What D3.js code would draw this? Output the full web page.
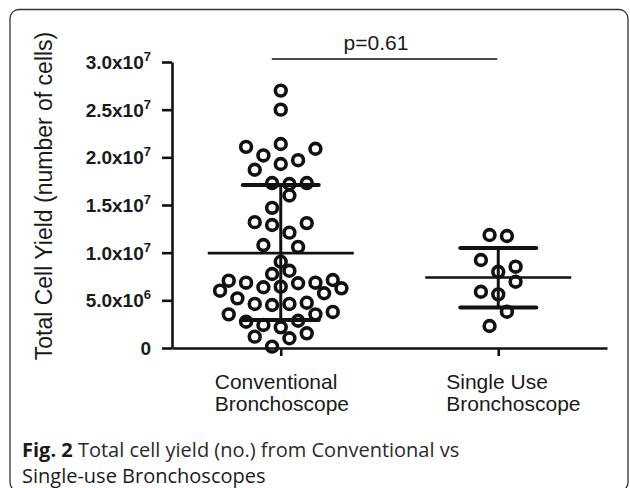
<!DOCTYPE html>
<html lang="en">
<head>
<meta charset="UTF-8" />
<script src="https://cdn.jsdelivr.net/npm/d3@7"></script>
<title>Total cell yield</title>
<style>
  body { margin: 0; background: #fff; }
  text { fill: #1a1a1a; }
</style>
</head>
<body>
<script>
// categories and their two-line labels
var groups = ["Conventional", "Single Use"];
var groupLabels = [["Conventional", "Bronchoscope"], ["Single Use", "Bronchoscope"]];

// cell counts, with the column-scatter slot of each point
var convValues = [27.0e6, 25.0e6, 21.1e6, 21.4e6, 20.9e6, 20.2e6, 19.7e6, 19.3e6, 18.7e6, 17.3e6,
  17.2e6, 17.3e6, 16.0e6, 14.7e6, 13.2e6, 12.9e6, 13.1e6, 12.1e6, 10.8e6, 10.6e6,
  9.05e6, 8.1e6, 7.76e6, 7.06e6, 6.85e6, 6.37e6, 6.43e6, 6.79e6, 6.85e6, 7.13e6,
  6.01e6, 5.74e6, 6.26e6, 5.21e6, 4.62e6, 4.51e6, 4.62e6, 4.75e6, 3.53e6, 3.53e6,
  3.78e6, 2.76e6, 2.41e6, 2.17e6, 2.86e6, 1.19e6, 1.02e6, 1.54e6, 0.14e6];
var convSlot = [0, 0, -4, 0, 4, -2, 2, 0, -3, -1,
  1, 3, 1, -1, -3, -1, 3, 1, -2, 2,
  0, 1, -1, -6, -4, -2, 0, 2, 4, 6,
  -7, 5, 7, -5, -3, -1, 1, 3, -6, 4,
  6, -4, -2, 0, 2, -3, 1, 3, -1];
var singleValues = [11.85e6, 11.75e6, 9.23e6, 8.53e6, 8.0e6, 6.95e6, 5.9e6, 5.63e6, 3.81e6, 2.31e6];
var singleSlot = [-1, 1, -2, 2, 0, 2, -2, 0, 1, -1];

// mean and +/- SD bars
var means = [9.95e6, 7.4e6];
var sdUpper = [17.1e6, 10.5e6];
var sdLower = [2.95e6, 4.25e6];

var yTicks = [0, 5e6, 1e7, 1.5e7, 2e7, 2.5e7, 3e7];
var yTickMant = ["0", "5.0x10", "1.0x10", "1.5x10", "2.0x10", "2.5x10", "3.0x10"];
var yTickExp = ["", "6", "7", "7", "7", "7", "7"];
var pLabel = "p=0.61";

var width = 630, height = 488;
var svg = d3.select("body").append("svg").attr("width", width).attr("height", height);

// figure frame
svg.append("rect").attr("x", 10).attr("y", 9.5).attr("width", 618).attr("height", 482)
  .attr("rx", 9).attr("fill", "none").attr("stroke", "#333").attr("stroke-width", 1.3);

var y = d3.scaleLinear().domain([0, 3e7]).range([348, 62]);
var x = d3.scalePoint().domain(groups).range([172, 607]).padding(0.5);
var slot = d3.scaleLinear().domain([-1, 1]).range([-8.67, 8.67]);

// y axis
var yAxis = svg.append("g").attr("transform", "translate(172,0)")
  .call(d3.axisLeft(y).tickValues(yTicks).tickSize(10).tickSizeOuter(0).tickFormat(""));
yAxis.selectAll("path, line").attr("stroke", "#111").attr("stroke-width", 2.6);

var yl = svg.append("g").selectAll("text").data(yTicks).join("text")
  .attr("x", 151).attr("y", function(d) { return y(d) + 7; })
  .attr("text-anchor", "end")
  .style("font-family", "'Liberation Sans', Arial, sans-serif")
  .style("font-weight", "bold").style("font-size", "19px");
yl.append("tspan").text(function(d, i) { return yTickMant[i]; });
yl.append("tspan").attr("dy", -8).style("font-size", "13px").text(function(d, i) { return yTickExp[i]; });

// x axis
var xAxis = svg.append("g").attr("transform", "translate(0,348)")
  .call(d3.axisBottom(x).tickSize(8).tickSizeOuter(0).tickFormat(""));
xAxis.selectAll("path, line").attr("stroke", "#111").attr("stroke-width", 2.6);

// category labels
groupLabels.forEach(function(lines, i) {
  var t = svg.append("text")
    .attr("x", i === 0 ? x(groups[i]) - 66 : x(groups[i]) - 52)
    .attr("y", 389)
    .style("font-family", "'Liberation Sans', Arial, sans-serif").style("font-size", "21px");
  lines.forEach(function(s, k) {
    t.append("tspan").attr("x", t.attr("x")).attr("dy", k === 0 ? 0 : 22).text(s);
  });
});

// y title
svg.append("text")
  .attr("transform", "translate(52,196) rotate(-90)")
  .attr("text-anchor", "middle")
  .style("font-family", "'Liberation Sans', Arial, sans-serif").style("font-size", "23px")
  .text("Total Cell Yield (number of cells)");

// points
var pts = [];
convValues.forEach(function(v, i) { pts.push({ g: groups[0], v: v, s: convSlot[i] }); });
singleValues.forEach(function(v, i) { pts.push({ g: groups[1], v: v, s: singleSlot[i] }); });

svg.append("g").selectAll("circle").data(pts).join("circle")
  .attr("cx", function(d) { return x(d.g) + slot(d.s) - slot(0); })
  .attr("cy", function(d) { return y(d.v); })
  .attr("r", 5.4)
  .attr("fill", "none").attr("stroke", "#111").attr("stroke-width", 3.6);

// mean and SD
var bars = svg.append("g").attr("stroke", "#111");
groups.forEach(function(g, i) {
  var cx = x(g);
  bars.append("line").attr("x1", cx - 73).attr("x2", cx + 73)
    .attr("y1", y(means[i])).attr("y2", y(means[i])).attr("stroke-width", 2.6);
  bars.append("line").attr("x1", cx).attr("x2", cx)
    .attr("y1", y(sdUpper[i])).attr("y2", y(sdLower[i])).attr("stroke-width", 3);
  [sdUpper[i], sdLower[i]].forEach(function(v) {
    bars.append("line").attr("x1", cx - 38).attr("x2", cx + 38)
      .attr("y1", y(v)).attr("y2", y(v)).attr("stroke-width", 4).attr("stroke-linecap", "round");
  });
});

// significance bracket
svg.append("line").attr("x1", x(groups[0]) - 9).attr("x2", x(groups[1]) - 1)
  .attr("y1", 59).attr("y2", 59).attr("stroke", "#111").attr("stroke-width", 1.6);
svg.append("text").attr("x", 376).attr("y", 50).attr("text-anchor", "middle")
  .style("font-family", "'Liberation Sans', Arial, sans-serif").style("font-size", "21px")
  .text(pLabel);

// caption
var cap = svg.append("g").style("font-family", "'Open Sans', sans-serif").style("font-size", "20px");
var c1 = cap.append("text").attr("x", 22).attr("y", 457);
c1.append("tspan").style("font-weight", "bold").text("Fig. 2");
c1.append("tspan").attr("fill", "#2a2a2a").text(" Total cell yield (no.) from Conventional vs");
cap.append("text").attr("x", 22).attr("y", 483).attr("fill", "#2a2a2a").text("Single-use Bronchoscopes");
</script>
</body>
</html>
